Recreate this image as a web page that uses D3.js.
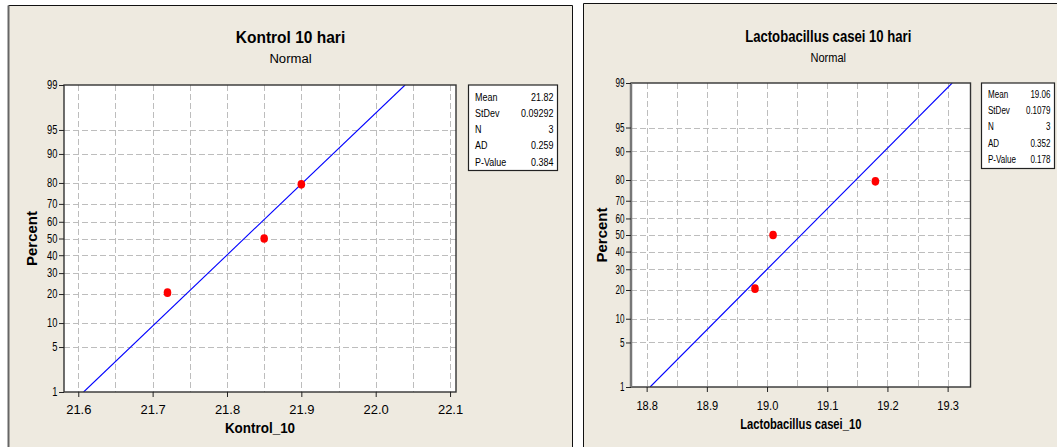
<!DOCTYPE html>
<html>
<head>
<meta charset="utf-8">
<script src="https://cdn.jsdelivr.net/npm/d3@7"></script>
<style>
  html, body { margin: 0; padding: 0; background: #ffffff; }
  svg { display: block; }
  text { font-family: "Liberation Sans", Arial, sans-serif; fill: #000; }
</style>
</head>
<body>
<svg id="chart" width="1057" height="447"></svg>
<script>
// ---- data ----
const percentTicks = [1, 5, 10, 20, 30, 40, 50, 60, 70, 80, 90, 95, 99];
const statLabels = ["Mean", "StDev", "N", "AD", "P-Value"];

const kontrolValues = [21.72, 21.85, 21.90];
const kontrolXTicks = [21.6, 21.7, 21.8, 21.9, 22.0, 22.1];
const kontrolStats = ["21.82", "0.09292", "3", "0.259", "0.384"];

const caseiValues = [18.98, 19.01, 19.18];
const caseiXTicks = [18.8, 18.9, 19.0, 19.1, 19.2, 19.3];
const caseiStats = ["19.06", "0.1079", "3", "0.352", "0.178"];

// inverse standard normal CDF (Acklam's rational approximation)
function qnorm(p) {
  const a = [-3.969683028665376e+01, 2.209460984245205e+02, -2.759285104469687e+02, 1.383577518672690e+02, -3.066479806614716e+01, 2.506628277459239e+00];
  const b = [-5.447609879822406e+01, 1.615858368580409e+02, -1.556989798598866e+02, 6.680131188771972e+01, -1.328068155288572e+01];
  const c = [-7.784894002430293e-03, -3.223964580411365e-01, -2.400758277161838e+00, -2.549732539343734e+00, 4.374664141464968e+00, 2.938163982698783e+00];
  const d = [7.784695709041462e-03, 3.224671290700398e-01, 2.445134137142996e+00, 3.754408661907416e+00];
  const pl = 0.02425, ph = 1 - pl;
  if (p < pl) {
    const q = Math.sqrt(-2 * Math.log(p));
    return (((((c[0]*q+c[1])*q+c[2])*q+c[3])*q+c[4])*q+c[5]) / ((((d[0]*q+d[1])*q+d[2])*q+d[3])*q+1);
  }
  if (p <= ph) {
    const q = p - 0.5, r = q * q;
    return (((((a[0]*r+a[1])*r+a[2])*r+a[3])*r+a[4])*r+a[5])*q / (((((b[0]*r+b[1])*r+b[2])*r+b[3])*r+b[4])*r+1);
  }
  const q = Math.sqrt(-2 * Math.log(1 - p));
  return -(((((c[0]*q+c[1])*q+c[2])*q+c[3])*q+c[4])*q+c[5]) / ((((d[0]*q+d[1])*q+d[2])*q+d[3])*q+1);
}

const svg = d3.select("#chart");
const PANEL_BG = "#eeeae0";

// text with optional horizontal condensing
function label(g, x, y, str, o) {
  const t = g.append("text")
    .attr("transform", `translate(${x},${y})${o.rotate ? ` rotate(${o.rotate})` : ""} scale(${o.sx || 1},1)`)
    .attr("text-anchor", o.anchor || "start")
    .style("font-size", o.size + "px")
    .style("font-weight", o.weight || "normal")
    .text(str);
  if (o.ls != null) t.style("letter-spacing", o.ls + "px");
  return t;
}

function drawPanel(cfg) {
  const g = svg.append("g");
  const P = cfg.panel, A = cfg.plot;

  // panel background and border
  g.append("rect").attr("x", P.x0).attr("y", P.y0).attr("width", P.x1 - P.x0).attr("height", 460 - P.y0).attr("fill", PANEL_BG);
  g.append("line").attr("x1", P.x0).attr("x2", P.x1).attr("y1", P.y0).attr("y2", P.y0).attr("stroke", "#111").attr("stroke-width", 1);
  g.append("line").attr("x1", P.x0).attr("x2", P.x0).attr("y1", P.y0).attr("y2", 460).attr("stroke", cfg.leftBorder || "#111").attr("stroke-width", cfg.leftBorderW || 1);
  if (P.right) g.append("line").attr("x1", P.x1).attr("x2", P.x1).attr("y1", P.y0).attr("y2", 460).attr("stroke", "#111").attr("stroke-width", 1);

  // scales: x in data units, y in standard-normal quantiles
  const x = d3.scaleLinear().domain(cfg.xDomain).range([A.x0, A.x1]);
  const zLo = qnorm(0.01), zHi = qnorm(0.99);
  const y = d3.scaleLinear().domain([zLo, zHi]).range([A.y1, A.y0]);

  // plot area
  g.append("rect").attr("x", A.x0).attr("y", A.y0).attr("width", A.x1 - A.x0).attr("height", A.y1 - A.y0).attr("fill", "#ffffff");

  // dashed grid
  const vGrid = d3.range(Math.ceil(cfg.xDomain[0] * 20 - 1e-9), Math.floor(cfg.xDomain[1] * 20 + 1e-9) + 1).map(k => k / 20);
  g.append("g").selectAll("line").data(vGrid).join("line")
    .attr("x1", d => Math.round(x(d)) + 0.5).attr("x2", d => Math.round(x(d)) + 0.5)
    .attr("y1", A.y0).attr("y2", A.y1)
    .attr("stroke", "#bdbdbd").attr("stroke-width", 1).attr("stroke-dasharray", "6,3");
  g.append("g").selectAll("line").data(percentTicks.filter(p => p > 1 && p < 99)).join("line")
    .attr("x1", A.x0).attr("x2", A.x1)
    .attr("y1", d => Math.round(y(qnorm(d / 100))) + 0.5).attr("y2", d => Math.round(y(qnorm(d / 100))) + 0.5)
    .attr("stroke", "#bdbdbd").attr("stroke-width", 1).attr("stroke-dasharray", "6,3");

  // fitted normal line from the sample mean and standard deviation
  const mean = d3.mean(cfg.values), sd = d3.deviation(cfg.values);
  const lineZ = [zLo, zHi];
  const clip = "clip-" + cfg.id;
  g.append("clipPath").attr("id", clip).append("rect").attr("x", A.x0).attr("y", A.y0).attr("width", A.x1 - A.x0).attr("height", A.y1 - A.y0);
  g.append("path")
    .attr("clip-path", `url(#${clip})`)
    .attr("d", d3.line().x(z => x(mean + sd * z)).y(z => y(z))(lineZ))
    .attr("fill", "none").attr("stroke", "#0000ff").attr("stroke-width", 1.1);

  // data points at median-rank plotting positions
  const n = cfg.values.length;
  const sorted = cfg.values.slice().sort(d3.ascending);
  g.append("g").selectAll("ellipse").data(sorted).join("ellipse")
    .attr("cx", d => x(d))
    .attr("cy", (d, i) => y(qnorm((i + 1 - 0.3) / (n + 0.4))))
    .attr("rx", 3.8).attr("ry", 4.3)
    .attr("fill", "#ff0000");

  // frame
  g.append("rect").attr("x", A.x0).attr("y", A.y0).attr("width", A.x1 - A.x0).attr("height", A.y1 - A.y0)
    .attr("fill", "none").attr("stroke", "#333").attr("stroke-width", 1.4);
  if (cfg.plotLeftEdge) {
    g.append("line").attr("x1", A.x0).attr("x2", A.x0).attr("y1", A.y0).attr("y2", A.y1).attr("stroke", "#777").attr("stroke-width", 2.5);
  }

  // x axis
  const xAxis = g.append("g").attr("transform", `translate(0,${A.y1})`)
    .call(d3.axisBottom(x).tickValues(cfg.xTicks).tickFormat(d3.format(".1f")).tickSize(5).tickPadding(cfg.xPad));
  xAxis.select(".domain").remove();
  xAxis.selectAll(".tick line").attr("stroke", "#222");
  xAxis.selectAll(".tick text")
    .attr("fill", "#000").style("font-family", "Liberation Sans, Arial, sans-serif")
    .style("font-size", "13.5px").attr("transform", `scale(${cfg.xTickSx},1)`);

  // y axis (probability scale)
  const yAxis = g.append("g").attr("transform", `translate(${A.x0},0)`)
    .call(d3.axisLeft(y).tickValues(percentTicks.map(p => qnorm(p / 100)))
      .tickFormat((d, i) => percentTicks[i]).tickSize(5).tickPadding(2));
  yAxis.select(".domain").remove();
  yAxis.selectAll(".tick line").attr("stroke", "#222");
  yAxis.selectAll(".tick text")
    .attr("fill", "#000").style("font-family", "Liberation Sans, Arial, sans-serif")
    .style("font-size", "12px")
    .attr("x", -6.5 / cfg.yTickSx)
    .attr("transform", `scale(${cfg.yTickSx},1)`);

  // titles
  const cx = (P.x0 + P.x1) / 2 + cfg.titleShift;
  label(g, cx, cfg.titleY, cfg.title, { size: 16, weight: "bold", anchor: "middle", sx: cfg.titleSx });
  label(g, cx, cfg.titleY + 19.5, "Normal", { size: 13.5, anchor: "middle", sx: cfg.titleSx });
  label(g, (A.x0 + A.x1) / 2, cfg.xLabelY, cfg.xLabel, { size: 14, weight: "bold", anchor: "middle", sx: cfg.xLabelSx });
  label(g, cfg.yLabelX, (A.y0 + A.y1) / 2, "Percent", { size: 15, weight: "bold", anchor: "middle", rotate: -90 });

  // statistics box
  const L = cfg.legend;
  g.append("rect").attr("x", L.x0).attr("y", A.y0).attr("width", L.x1 - L.x0).attr("height", L.y1 - A.y0)
    .attr("fill", "#ffffff").attr("stroke", "#222").attr("stroke-width", 1.2);
  statLabels.forEach((s, i) => {
    const by = L.row0 + i * L.step;
    label(g, L.x0 + 6.5, by, s, { size: L.size, sx: L.sx });
    label(g, L.x1 - 4, by, cfg.stats[i], { size: L.size, anchor: "end", sx: L.sx });
  });
}

drawPanel({
  id: "kontrol",
  panel: { x0: 8.5, y0: 5.5, x1: 572.5, right: true },
  leftBorder: "#666", leftBorderW: 2,
  plot: { x0: 64, x1: 456, y0: 85, y1: 392 },
  xDomain: [21.5808, 22.108],
  values: kontrolValues, xTicks: kontrolXTicks, stats: kontrolStats,
  xPad: 7, xTickSx: 0.96, yTickSx: 0.78,
  title: "Kontrol 10 hari", titleY: 43, titleShift: 0, titleSx: 0.97,
  xLabel: "Kontrol_10", xLabelY: 433, xLabelSx: 0.96,
  yLabelX: 37,
  legend: { x0: 468.5, x1: 557.5, y1: 170.5, row0: 100.5, step: 16.3, sx: 0.78, size: 11.5 }
});

drawPanel({
  id: "casei",
  panel: { x0: 583.5, y0: 3.5, x1: 1070, right: false },
  plot: { x0: 631, x1: 970.5, y0: 83, y1: 387 },
  xDomain: [18.774, 19.338],
  values: caseiValues, xTicks: caseiXTicks, stats: caseiStats,
  xPad: 8, xTickSx: 0.82, yTickSx: 0.68,
  plotLeftEdge: true,
  title: "Lactobacillus casei 10 hari", titleY: 42, titleShift: 1.5, titleSx: 0.82,
  xLabel: "Lactobacillus casei_10", xLabelY: 428.5, xLabelSx: 0.8,
  yLabelX: 607,
  legend: { x0: 981.5, x1: 1054.5, y1: 168.5, row0: 98, step: 16.2, sx: 0.7, size: 11.5 }
});
</script>
</body>
</html>
